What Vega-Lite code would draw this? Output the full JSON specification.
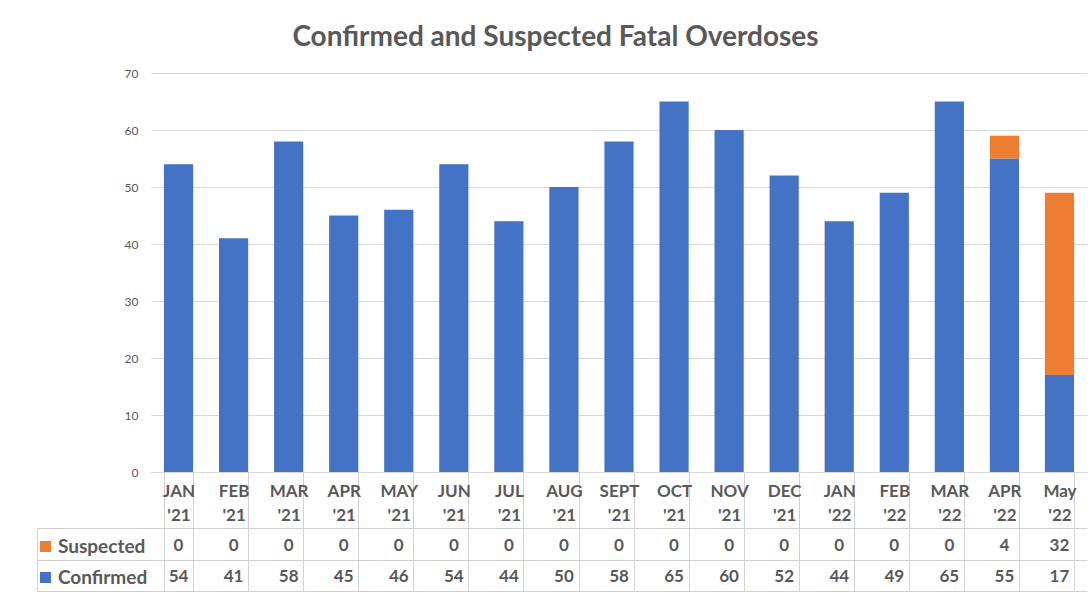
{
  "$schema": "https://vega.github.io/schema/vega-lite/v6.json",
  "padding": {"left": 36, "top": 24, "right": 4, "bottom": 0},
  "title": {"text": "Confirmed and Suspected Fatal Overdoses", "font": "Lato", "fontSize": 28, "fontWeight": "bold", "color": "#595959", "anchor": "middle", "offset": 15, "dx": -6},
  "data": {"values": [
    {"month": "JAN '21", "series": "Confirmed", "count": 54}, {"month": "JAN '21", "series": "Suspected", "count": 0},
    {"month": "FEB '21", "series": "Confirmed", "count": 41}, {"month": "FEB '21", "series": "Suspected", "count": 0},
    {"month": "MAR '21", "series": "Confirmed", "count": 58}, {"month": "MAR '21", "series": "Suspected", "count": 0},
    {"month": "APR '21", "series": "Confirmed", "count": 45}, {"month": "APR '21", "series": "Suspected", "count": 0},
    {"month": "MAY '21", "series": "Confirmed", "count": 46}, {"month": "MAY '21", "series": "Suspected", "count": 0},
    {"month": "JUN '21", "series": "Confirmed", "count": 54}, {"month": "JUN '21", "series": "Suspected", "count": 0},
    {"month": "JUL '21", "series": "Confirmed", "count": 44}, {"month": "JUL '21", "series": "Suspected", "count": 0},
    {"month": "AUG '21", "series": "Confirmed", "count": 50}, {"month": "AUG '21", "series": "Suspected", "count": 0},
    {"month": "SEPT '21", "series": "Confirmed", "count": 58}, {"month": "SEPT '21", "series": "Suspected", "count": 0},
    {"month": "OCT '21", "series": "Confirmed", "count": 65}, {"month": "OCT '21", "series": "Suspected", "count": 0},
    {"month": "NOV '21", "series": "Confirmed", "count": 60}, {"month": "NOV '21", "series": "Suspected", "count": 0},
    {"month": "DEC '21", "series": "Confirmed", "count": 52}, {"month": "DEC '21", "series": "Suspected", "count": 0},
    {"month": "JAN '22", "series": "Confirmed", "count": 44}, {"month": "JAN '22", "series": "Suspected", "count": 0},
    {"month": "FEB '22", "series": "Confirmed", "count": 49}, {"month": "FEB '22", "series": "Suspected", "count": 0},
    {"month": "MAR '22", "series": "Confirmed", "count": 65}, {"month": "MAR '22", "series": "Suspected", "count": 0},
    {"month": "APR '22", "series": "Confirmed", "count": 55}, {"month": "APR '22", "series": "Suspected", "count": 4},
    {"month": "May '22", "series": "Confirmed", "count": 17}, {"month": "May '22", "series": "Suspected", "count": 32}
  ]},
  "spacing": 0,
  "bounds": "flush",
  "resolve": {"scale": {"x": "independent", "y": "independent", "color": "independent"}, "legend": {"color": "independent"}},
  "vconcat": [
    {
      "width": 936,
      "height": 399,
      "mark": {"type": "bar"},
      "encoding": {
        "x": {"field": "month", "type": "nominal", "sort": null,
          "scale": {"paddingInner": 0.47, "paddingOuter": 0.235},
          "axis": {"title": null, "labels": false, "ticks": false, "domain": true, "domainColor": "#d9d9d9"}},
        "y": {"field": "count", "type": "quantitative", "aggregate": "sum", "stack": "zero",
          "scale": {"domain": [0, 70], "nice": false},
          "axis": {"title": null, "values": [0, 10, 20, 30, 40, 50, 60, 70], "domain": false, "ticks": false, "labelPadding": 13, "labelFont": "Lato", "labelFontSize": 12, "labelColor": "#595959", "gridColor": "#d9d9d9"}},
        "color": {"field": "series", "type": "nominal",
          "scale": {"domain": ["Suspected", "Confirmed"], "range": ["#ED7D31", "#4472C4"]},
          "legend": null},
        "order": {"field": "series", "sort": "ascending"}
      }
    },
    {
      "width": 936,
      "height": 119,
      "encoding": {
        "x": {"field": "month", "type": "nominal", "sort": null,
          "scale": {"paddingInner": 0.47, "paddingOuter": 0.235},
          "axis": {"title": null, "orient": "top", "labelAngle": 0, "labelExpr": "split(datum.label, ' ')", "labelFont": "Lato", "labelFontSize": 17, "labelFontWeight": "bold", "labelColor": "#595959", "labelLineHeight": 24, "labelBaseline": "top", "labelPadding": -11, "labelBound": false, "labelOverlap": false, "ticks": false, "domain": false, "grid": true, "tickBand": "extent", "gridColor": "#d0d0d0", "gridWidth": 1}},
        "y": {"field": "series", "type": "nominal", "sort": ["Suspected", "Confirmed"],
          "scale": {"paddingInner": 0, "paddingOuter": 0.889, "align": 1},
          "axis": {"title": null, "labels": false, "offset": 114, "domain": true, "domainColor": "#d0d0d0", "domainDash": [63, 56], "domainDashOffset": 63, "ticks": true, "tickSize": -114, "tickColor": "#d0d0d0", "tickBand": "extent", "grid": true, "gridColor": "#d0d0d0"}}
      },
      "layer": [
        {
          "mark": {"type": "text", "font": "Lato", "fontSize": 17, "fontWeight": "bold", "color": "#595959", "dy": 2},
          "encoding": {"text": {"field": "count", "type": "quantitative"}}
        },
        {
          "mark": {"type": "square", "size": 0, "opacity": 0},
          "encoding": {
            "color": {"field": "series", "type": "nominal",
              "scale": {"domain": ["Suspected", "Confirmed"], "range": ["#ED7D31", "#4472C4"]},
              "legend": {"title": null, "orient": "none", "legendX": -115, "legendY": 65, "direction": "vertical", "symbolType": "square", "symbolSize": 121, "symbolOpacity": 1, "symbolStrokeWidth": 0, "labelFont": "Lato", "labelFontSize": 19, "labelFontWeight": "bold", "labelColor": "#595959", "rowPadding": 11, "padding": 0, "labelOffset": 3}}
          }
        }
      ]
    }
  ],
  "config": {"font": "Lato", "view": {"stroke": null}}
}
